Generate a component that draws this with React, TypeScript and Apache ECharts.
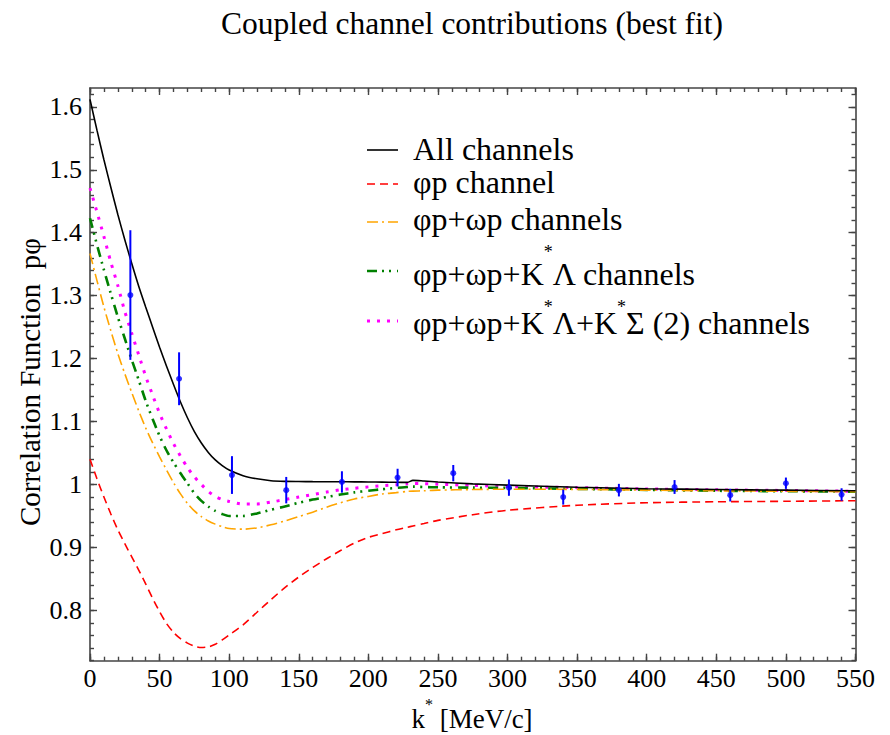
import React, { useEffect, useRef } from "react";
import * as echarts from "echarts";

const FONT = '"Liberation Serif", "Times New Roman", Times, serif';

// k* grid (MeV/c) on which the model curves are tabulated
const kGrid = [
  0, 5, 10, 15, 20, 25, 30, 35, 40, 45, 50, 55, 60, 65, 70, 75, 80, 85, 90, 95,
  100, 110, 120, 130, 140, 150, 160, 170, 180, 190, 200, 210, 220, 228, 232, 240,
  250, 275, 300, 350, 400, 450, 500, 550,
];

const allChannels = [
  1.612, 1.563, 1.516, 1.472, 1.429, 1.389, 1.351, 1.315, 1.282, 1.25, 1.218, 1.188,
  1.159, 1.131, 1.106, 1.084, 1.066, 1.051, 1.039, 1.03, 1.023, 1.014, 1.009, 1.006,
  1.005, 1.0047, 1.0045, 1.0044, 1.0043, 1.0042, 1.004, 1.0038, 1.0035, 1.0033, 1.0066,
  1.0055, 1.004, 1.001, 0.999, 0.9955, 0.9933, 0.992, 0.991, 0.99,
];

const phiPChannel = [
  1.04, 1.009, 0.98, 0.953, 0.928, 0.906, 0.885, 0.864, 0.842, 0.819, 0.798, 0.779,
  0.765, 0.755, 0.748, 0.743, 0.741, 0.742, 0.746, 0.753, 0.761, 0.777, 0.797, 0.817,
  0.836, 0.853, 0.868, 0.882, 0.895, 0.907, 0.916, 0.922, 0.928, 0.932, 0.934, 0.938,
  0.943, 0.952, 0.959, 0.967, 0.971, 0.9725, 0.9733, 0.9742,
];

const phiPOmegaP = [
  1.367, 1.324, 1.282, 1.244, 1.208, 1.176, 1.146, 1.117, 1.09, 1.066, 1.044, 1.023,
  1.003, 0.985, 0.97, 0.958, 0.949, 0.942, 0.937, 0.933, 0.93, 0.929, 0.931, 0.936,
  0.942, 0.949, 0.956, 0.964, 0.971, 0.977, 0.981, 0.985, 0.987, 0.989, 0.9895, 0.99,
  0.991, 0.992, 0.9925, 0.9922, 0.991, 0.99, 0.9892, 0.9885,
];

const withKLambda = [
  1.423, 1.381, 1.341, 1.303, 1.266, 1.232, 1.198, 1.166, 1.133, 1.104, 1.077, 1.054,
  1.035, 1.018, 1.002, 0.986, 0.974, 0.965, 0.958, 0.953, 0.95, 0.95, 0.954, 0.96,
  0.965, 0.971, 0.976, 0.98, 0.984, 0.9875, 0.99, 0.9925, 0.9945, 0.996, 0.9966, 0.996,
  0.9955, 0.995, 0.9945, 0.993, 0.9915, 0.99, 0.9893, 0.9885,
];

const withKSigma = [
  1.471, 1.433, 1.394, 1.353, 1.316, 1.275, 1.24, 1.206, 1.172, 1.142, 1.113, 1.088,
  1.065, 1.045, 1.027, 1.012, 1.0, 0.989, 0.981, 0.976, 0.973, 0.969, 0.969, 0.972,
  0.976, 0.98, 0.984, 0.988, 0.9915, 0.994, 0.9962, 0.998, 0.9995, 1.001, 1.0015,
  1.0012, 1.0005, 0.9985, 0.9968, 0.995, 0.993, 0.9915, 0.9905, 0.9892,
];

// measured correlation function
const dataK = [29, 64, 102, 141, 181, 221, 261, 301, 340, 380, 420, 460, 500, 540];
const dataC = [1.301, 1.168, 1.015, 0.991, 1.004, 1.011, 1.018, 0.995, 0.98, 0.991, 0.996, 0.983, 1.002, 0.984];
const dataErr = [0.103, 0.042, 0.03, 0.021, 0.017, 0.014, 0.013, 0.013, 0.012, 0.01, 0.011, 0.01, 0.009, 0.01];

const xMajorTicks = [0, 50, 100, 150, 200, 250, 300, 350, 400, 450, 500, 550];
const yMajorTicks = [0.8, 0.9, 1.0, 1.1, 1.2, 1.3, 1.4, 1.5, 1.6];

const X_MIN = 0;
const X_MAX = 550;
const Y_MIN = 0.72;
const Y_MAX = 1.63;

const TITLE = "Coupled channel contributions (best fit)";
const Y_NAME = "Correlation Function  p\u03c6";

// "^*" marks a superscript asterisk
const seriesNames = [
  "All channels",
  "\u03c6p channel",
  "\u03c6p+\u03c9p channels",
  "\u03c6p+\u03c9p+K^*\u039b channels",
  "\u03c6p+\u03c9p+K^*\u039b+K^*\u03a3 (2) channels",
];

const xMinorTicks: number[] = [];
for (let v = X_MIN; v <= X_MAX + 1e-9; v += 10) xMinorTicks.push(Math.round(v));
const yMinorTicks: number[] = [];
for (let i = 36; i <= 81; i++) yMinorTicks.push(+(i * 0.02).toFixed(2));

const AXIS_COLOR = "#444";

const styles = [
  { color: "#000000", width: 1.6, type: "solid" as any },
  { color: "#ff0000", width: 1.6, type: [8, 5] },
  { color: "#ffa500", width: 1.6, type: [11, 4, 2, 4] },
  { color: "#008000", width: 2.6, type: [10, 5, 2, 5, 2, 6] },
  { color: "#ff00ff", width: 3, type: [3, 7] },
];

const curves = [allChannels, phiPChannel, phiPOmegaP, withKLambda, withKSigma];

let measureCtx: CanvasRenderingContext2D | null = null;
function measure(text: string, size: number): number {
  if (!measureCtx) measureCtx = document.createElement("canvas").getContext("2d");
  if (!measureCtx) return text.length * size * 0.5;
  measureCtx.font = `${size}px ${FONT}`;
  return measureCtx.measureText(text).width;
}

function textEl(text: string, x: number, y: number, size: number, align = "left", extra: any = {}) {
  return {
    type: "text",
    x,
    y,
    silent: true,
    ...extra,
    style: {
      text,
      fontSize: size,
      fontFamily: FONT,
      fill: "#000",
      align,
      textAlign: align,
      verticalAlign: "middle",
      textVerticalAlign: "middle",
    },
  };
}

// lays out a label with superscript asterisks, starting at x
function supLabel(label: string, x: number, midY: number, supY: number, size: number, supSize: number, center = false) {
  const parts = label.split("^*");
  const widths = parts.map((p) => measure(p, size));
  const supW = measure("*", supSize);
  const total = widths.reduce((a, b) => a + b, 0) + supW * (parts.length - 1);
  let cx = center ? x - total / 2 : x;
  const els: any[] = [];
  parts.forEach((p, i) => {
    els.push(textEl(p, cx, midY, size));
    cx += widths[i];
    if (i < parts.length - 1) {
      els.push(textEl("*", cx, supY, supSize));
      cx += supW;
    }
  });
  return els;
}

function valueAxis(kind: "x" | "y", pos: string, ticks: number[], len: number, labels: boolean, line: boolean, min: number, max: number) {
  return {
    type: "value",
    position: pos,
    min,
    max,
    axisLine: { show: line, onZero: false, lineStyle: { color: AXIS_COLOR, width: 1.6 } },
    axisTick: {
      show: true,
      inside: true,
      length: len,
      customValues: ticks,
      lineStyle: { color: AXIS_COLOR, width: 1.4 },
    },
    axisLabel: labels
      ? {
          show: true,
          customValues: ticks,
          fontSize: 26,
          fontFamily: FONT,
          color: "#000",
          margin: kind === "x" ? 5 : 8,
          formatter: (v: number) => String(+Number(v).toFixed(2)),
        }
      : { show: false },
    splitLine: { show: false },
  };
}

export default function App() {
  const ref = useRef<HTMLDivElement>(null);

  useEffect(() => {
    if (!ref.current) return;
    const chart = echarts.init(ref.current, null, { renderer: "svg" });

    const lineSeries = curves.map((vals, idx) => ({
      type: "line",
      name: seriesNames[idx].split("^*").join("*"),
      data: kGrid.map((k, i) => [k, vals[i]]),
      showSymbol: false,
      smooth: 0.25,
      lineStyle: { color: styles[idx].color, width: styles[idx].width, type: styles[idx].type, cap: "butt" },
      z: 2 + (4 - idx),
    }));

    const errorSeries = {
      type: "custom",
      name: "errors",
      data: dataK.map((k, i) => [k, dataC[i], dataErr[i]]),
      encode: { x: 0, y: 1 },
      z: 10,
      renderItem: (_params: any, api: any) => {
        const k = api.value(0);
        const c = api.value(1);
        const e = api.value(2);
        const p1 = api.coord([k, c - e]);
        const p2 = api.coord([k, c + e]);
        return {
          type: "line",
          shape: { x1: p1[0], y1: p1[1], x2: p2[0], y2: p2[1] },
          style: { stroke: "#0000ff", lineWidth: 2 },
        };
      },
    };

    const pointSeries = {
      type: "scatter",
      name: "data",
      data: dataK.map((k, i) => [k, dataC[i]]),
      symbol: "circle",
      symbolSize: 6,
      itemStyle: { color: "#0000ff" },
      z: 11,
    };

    const graphics: any[] = [];
    graphics.push(textEl(TITLE, 472, 23, 31.5, "center"));
    graphics.push(textEl(Y_NAME, 30, 382, 29, "center", { rotation: Math.PI / 2 }));
    graphics.push(...supLabel("k^* [MeV/c]", 472, 719, 704, 27, 16, true));

    // legend
    const sampleY = [150, 184, 222, 271, 321];
    const textY = [149.2, 181.9, 219.2, 274.2, 322.5];
    const supY = [0, 0, 0, 252, 307];
    seriesNames.forEach((name, i) => {
      graphics.push({
        type: "line",
        silent: true,
        shape: { x1: 367, y1: sampleY[i], x2: 398, y2: sampleY[i] },
        style: {
          stroke: styles[i].color,
          lineWidth: styles[i].width,
          lineDash: Array.isArray(styles[i].type) ? styles[i].type : null,
        },
      });
      graphics.push(...supLabel(name, 413, textY[i], supY[i], 32, 18));
    });

    chart.setOption({
      animation: false,
      backgroundColor: "#ffffff",
      grid: { left: 90, top: 88, width: 765.5, height: 572.7, containLabel: false },
      xAxis: [
        valueAxis("x", "bottom", xMajorTicks, 7, true, true, X_MIN, X_MAX),
        valueAxis("x", "bottom", xMinorTicks, 4, false, false, X_MIN, X_MAX),
        valueAxis("x", "top", xMajorTicks, 7, false, true, X_MIN, X_MAX),
        valueAxis("x", "top", xMinorTicks, 4, false, false, X_MIN, X_MAX),
      ],
      yAxis: [
        valueAxis("y", "left", yMajorTicks, 7, true, true, Y_MIN, Y_MAX),
        valueAxis("y", "left", yMinorTicks, 4, false, false, Y_MIN, Y_MAX),
        valueAxis("y", "right", yMajorTicks, 7, false, true, Y_MIN, Y_MAX),
        valueAxis("y", "right", yMinorTicks, 4, false, false, Y_MIN, Y_MAX),
      ],
      graphic: graphics,
      series: [...lineSeries, errorSeries, pointSeries],
    });

    return () => chart.dispose();
  }, []);

  return (
    <div
      ref={ref}
      style={{ position: "absolute", left: 0, top: 0, width: 890, height: 735, background: "#fff" }}
    />
  );
}
